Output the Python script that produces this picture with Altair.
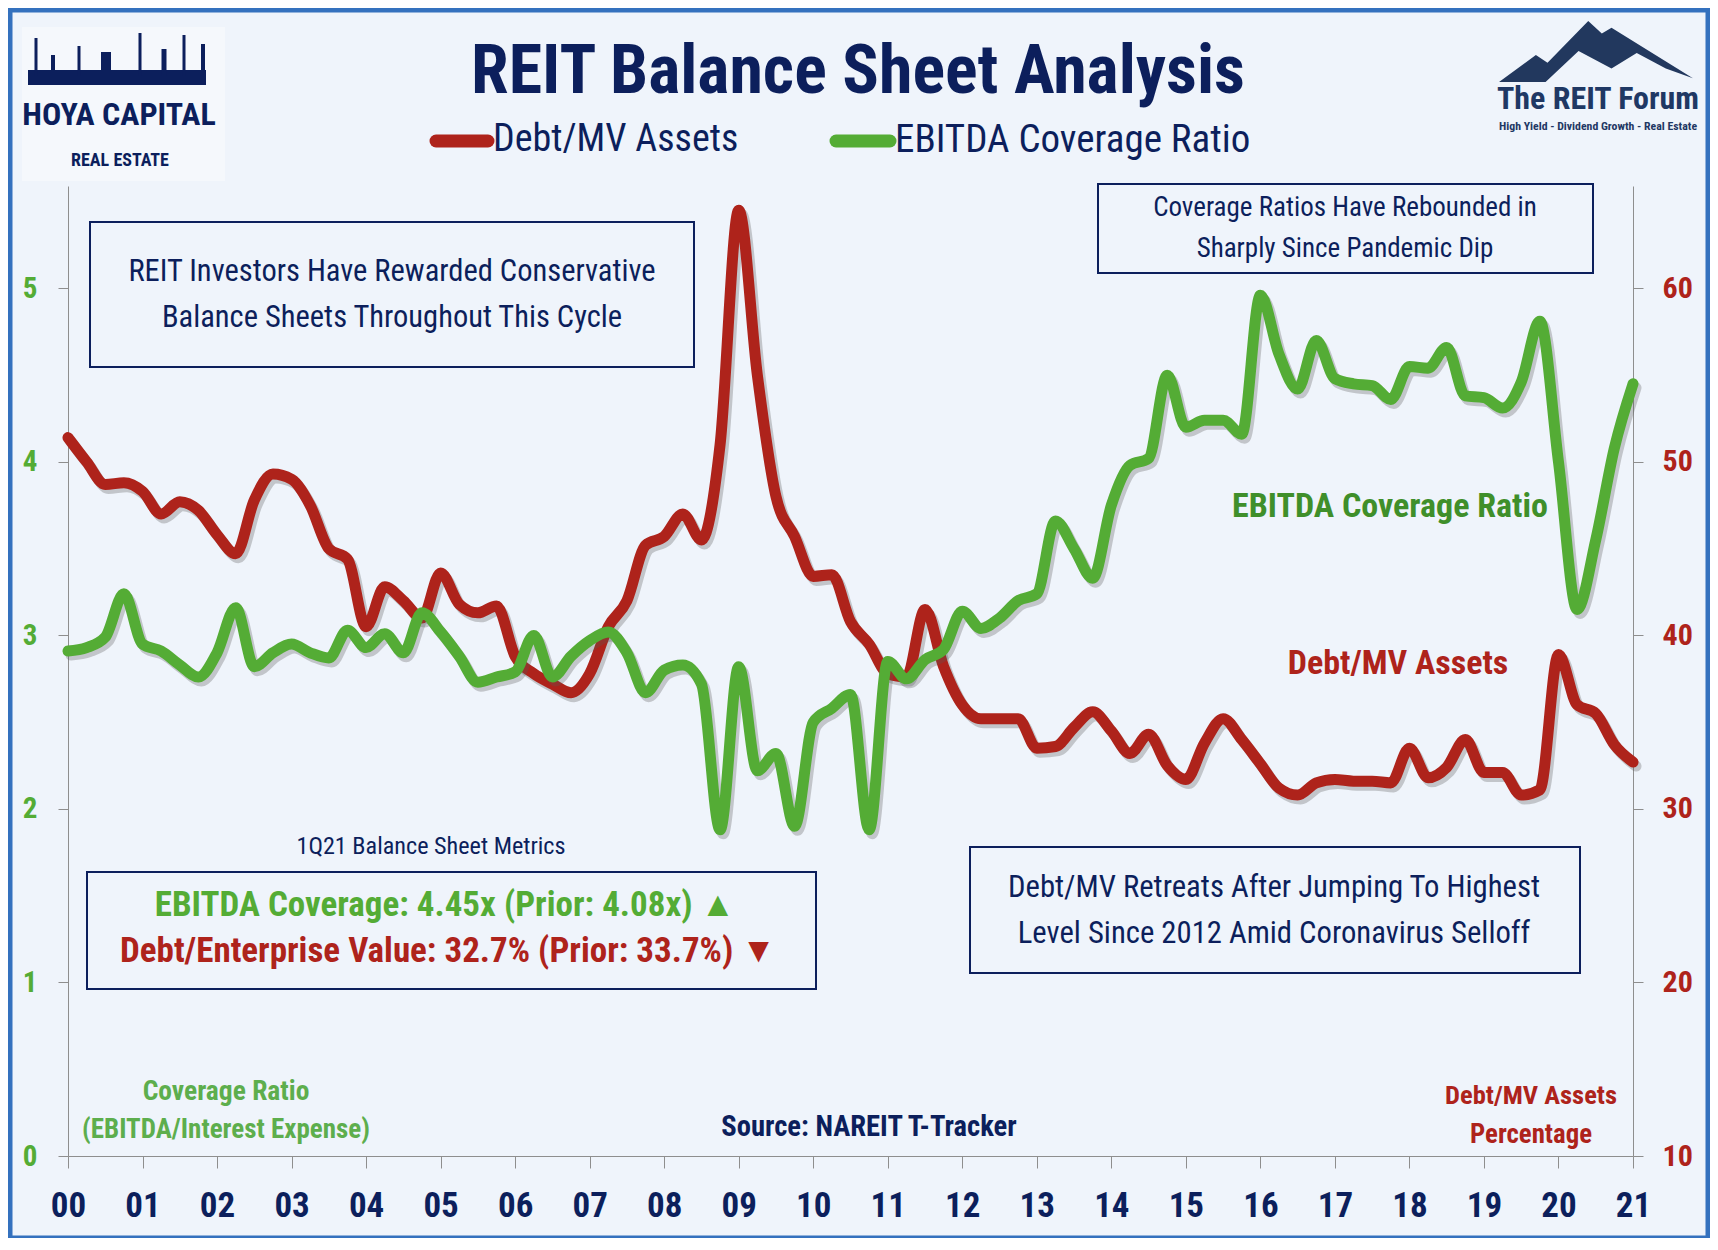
import altair as alt
import pandas as pd

# quarterly observations, 2000Q1 .. 2021Q1
quarters = [2000 + i / 4 for i in range(85)]

# Debt / market value of assets, percent (right axis)
debt_mv = [51.4, 50.0, 48.7, 48.8, 48.3, 47.0, 47.7, 47.2,
           45.8, 44.7, 47.8, 49.3, 49.0, 47.5, 45.0, 44.4,
           40.5, 42.8, 42.0, 41.0, 43.6, 41.8, 41.3, 41.7,
           38.8, 37.8, 37.2, 36.7, 37.8, 40.5, 42.0, 45.2,
           45.7, 47.0, 45.5, 51.0, 64.5, 55.0, 48.0, 45.7,
           43.4, 43.5, 40.8, 39.5, 37.8, 37.6, 41.5, 38.2,
           36.0, 35.2, 35.2, 35.2, 33.5, 33.6, 34.7, 35.6,
           34.5, 33.2, 34.3, 32.5, 31.7, 33.8, 35.2, 34.0,
           32.6, 31.2, 30.8, 31.5, 31.7, 31.6, 31.6, 31.5,
           33.5, 31.8, 32.4, 34.0, 32.1, 32.1, 30.8, 31.1,
           38.9, 36.0, 35.5, 33.7, 32.7]

# EBITDA / interest expense (left axis)
coverage = [2.91, 2.93, 2.99, 3.24, 2.95, 2.91, 2.83, 2.76,
            2.90, 3.16, 2.82, 2.90, 2.95, 2.90, 2.87, 3.03,
            2.93, 3.01, 2.90, 3.13, 3.02, 2.88, 2.73, 2.76,
            2.79, 3.00, 2.76, 2.88, 2.97, 3.02, 2.90, 2.67,
            2.80, 2.83, 2.72, 1.88, 2.82, 2.22, 2.32, 1.90,
            2.50, 2.58, 2.66, 1.88, 2.85, 2.75, 2.86, 2.92,
            3.14, 3.04, 3.10, 3.20, 3.24, 3.66, 3.50, 3.33,
            3.75, 3.98, 4.02, 4.50, 4.20, 4.24, 4.24, 4.16,
            4.96, 4.62, 4.42, 4.70, 4.48, 4.45, 4.44, 4.36,
            4.55, 4.54, 4.66, 4.38, 4.37, 4.31, 4.46, 4.81,
            4.00, 3.15, 3.55, 4.08, 4.45]

year_ticks = list(range(2000, 2022))
left_ticks = [0, 1, 2, 3, 4, 5]
right_ticks = [10, 20, 30, 40, 50, 60]

NAVY = "#0c1f5c"
RED = "#ae231b"
GREEN = "#54ac35"
DKGREEN = "#3f8f2a"
BG = "#eff4fb"
FONT = "Roboto Condensed, Roboto, Liberation Sans, sans-serif"
W, H = 1565, 970

df = pd.DataFrame({"quarter": quarters, "debt": debt_mv, "cov": coverage})
one = pd.DataFrame({"t": [""]})

x_enc = alt.X("quarter:Q",
              scale=alt.Scale(domain=[2000, 2021], nice=False, zero=False),
              axis=alt.Axis(values=year_ticks, title=None, grid=False,
                            labelExpr="substring(toString(datum.value), 2, 4)",
                            labelFont=FONT, labelFontSize=35, labelFontWeight="bold",
                            labelColor=NAVY, labelFlush=False, labelOverlap=False,
                            tickSize=12, labelPadding=20,
                            domainColor="#8e8e8e", tickColor="#8e8e8e"))

y_red = alt.Y("debt:Q",
              scale=alt.Scale(domain=[10, 65.9], nice=False, zero=False),
              axis=alt.Axis(orient="right", values=right_ticks, title=None, grid=False,
                            labelFont=FONT, labelFontSize=30, labelFontWeight="bold",
                            labelColor=RED, labelFlush=False, tickSize=10, labelPadding=19,
                            domainColor="#8e8e8e", tickColor="#8e8e8e"))

y_green = alt.Y("cov:Q",
                scale=alt.Scale(domain=[0, 5.59], nice=False, zero=False),
                axis=alt.Axis(orient="left", values=left_ticks, title=None, grid=False,
                              labelFont=FONT, labelFontSize=29, labelFontWeight="bold",
                              labelColor=GREEN, labelFlush=False, tickSize=10, labelPadding=21,
                              domainColor="#8e8e8e", tickColor="#8e8e8e"))

base = alt.Chart(df)
shadow = dict(color="#5a5a5a", opacity=0.3, strokeWidth=11, xOffset=3, yOffset=4,
              interpolate="monotone", strokeCap="round", strokeJoin="round")
line = dict(strokeWidth=11, interpolate="monotone", strokeCap="round", strokeJoin="round")

red_layer = alt.layer(
    base.mark_line(**shadow).encode(x=x_enc, y=y_red),
    base.mark_line(color=RED, **line).encode(x=x_enc, y=y_red),
)
green_layer = alt.layer(
    base.mark_line(**shadow).encode(x=x_enc, y=y_green),
    base.mark_line(color=GREEN, **line).encode(x=x_enc, y=y_green),
)
lines = alt.layer(red_layer, green_layer).resolve_scale(y="independent")


def label(text, x, y, size, color=NAVY, weight="normal", align="center"):
    return alt.Chart(pd.DataFrame({"t": [text]})).mark_text(
        font=FONT, fontSize=size, fontWeight=weight, color=color,
        align=align, baseline="middle"
    ).encode(x=alt.value(x), y=alt.value(y), text="t:N")


def box(x, y, x2, y2, stroke=NAVY, width=2, fill=None):
    kw = dict(stroke=stroke, strokeWidth=width)
    if fill is None:
        kw["filled"] = False
    else:
        kw["fill"] = fill
    return alt.Chart(one).mark_rect(**kw).encode(
        x=alt.value(x), x2=alt.value(x2), y=alt.value(y), y2=alt.value(y2))


def swatch(x, x2, y, color):
    return alt.Chart(one).mark_rule(color=color, strokeWidth=13, strokeCap="round").encode(
        x=alt.value(x), x2=alt.value(x2), y=alt.value(y))


def spire(x, top, width=3):
    return alt.Chart(one).mark_rule(color=NAVY, strokeWidth=width).encode(
        x=alt.value(x), y=alt.value(top), y2=alt.value(-110))


mountain = ("M-1,0.3 L-0.62,0.02 L-0.5,0.1 L-0.08,-0.33 L0.06,-0.2 L0.16,-0.26 "
            "L1,0.26 L0.72,0.16 L0.42,0.0 L0.16,0.16 L-0.18,-0.02 L-0.52,0.3 Z")

decor = [
    # outer frame
    box(-58, -176, 1640, 1052, stroke="#3471be", width=5),
    # Hoya Capital logo
    box(-46, -159, 157, -5, stroke=BG, width=0, fill="#f5f8fc"),
    box(-40, -116, 138, -101, stroke=NAVY, width=0, fill=NAVY),
    spire(-32, -148), spire(-15, -131, 4), spire(11, -140), spire(38, -134, 10),
    spire(72, -153), spire(96, -137, 5), spire(116, -151), spire(135, -142, 4),
    label("HOYA CAPITAL", 51, -71, 32, weight="bold"),
    label("REAL ESTATE", 52, -25, 18, weight="bold"),
    # The REIT Forum logo
    alt.Chart(one).mark_point(shape=mountain, filled=True, size=37600, color="#22385e",
                              opacity=1).encode(x=alt.value(1528), y=alt.value(-133)),
    label("The REIT Forum", 1530, -87, 32, color="#1f3864", weight="bold"),
    label("High Yield - Dividend Growth - Real Estate", 1530, -60, 11.8,
          color="#1f3864", weight="bold"),
    # title and legend
    label("REIT Balance Sheet Analysis", 790, -113, 68, weight="bold"),
    swatch(368, 420, -45, RED),
    label("Debt/MV Assets", 425, -46, 38, align="left"),
    swatch(768, 822, -45, GREEN),
    label("EBITDA Coverage Ratio", 827, -46, 39, align="left"),
    # annotation boxes
    box(22, 36, 626, 181),
    label("REIT Investors Have Rewarded Conservative", 324, 86, 30.5),
    label("Balance Sheets Throughout This Cycle", 324, 132, 30.5),
    box(1030, -2, 1525, 87),
    label("Coverage Ratios Have Rebounded in", 1277, 22, 27),
    label("Sharply Since Pandemic Dip", 1277, 63, 27),
    box(902, 661, 1512, 787),
    label("Debt/MV Retreats After Jumping To Highest", 1206, 702, 30.7),
    label("Level Since 2012 Amid Coronavirus Selloff", 1206, 748, 30.7),
    label("1Q21 Balance Sheet Metrics", 363, 661, 24.2),
    box(19, 686, 748, 803),
    label("EBITDA Coverage: 4.45x (Prior: 4.08x) \u25B2", 377, 719, 35, color=GREEN, weight="bold"),
    label("Debt/Enterprise Value: 32.7% (Prior: 33.7%) \u25BC", 380, 765, 35, color=RED, weight="bold"),
    # series labels and axis notes
    label("EBITDA Coverage Ratio", 1322, 321, 34, color=DKGREEN, weight="bold"),
    label("Debt/MV Assets", 1330, 478, 34, color=RED, weight="bold"),
    label("Coverage Ratio", 158, 906, 27.5, color="#5dae4d", weight="bold"),
    label("(EBITDA/Interest Expense)", 158, 944, 27, color="#5dae4d", weight="bold"),
    label("Source: NAREIT T-Tracker", 801, 941, 28.6, weight="bold"),
    label("Debt/MV Assets", 1463, 910, 26.5, color=RED, weight="bold"),
    label("Percentage", 1463, 949, 26.8, color=RED, weight="bold"),
]

chart = alt.layer(lines, *decor).properties(
    width=W, height=H,
    autosize=alt.AutoSizeParams(type="none"),
    padding={"left": 60, "top": 178, "right": 77, "bottom": 82},
    background=BG,
).configure_view(stroke=None)

chart.save("out.html", embed_options={"renderer": "svg", "actions": False})
